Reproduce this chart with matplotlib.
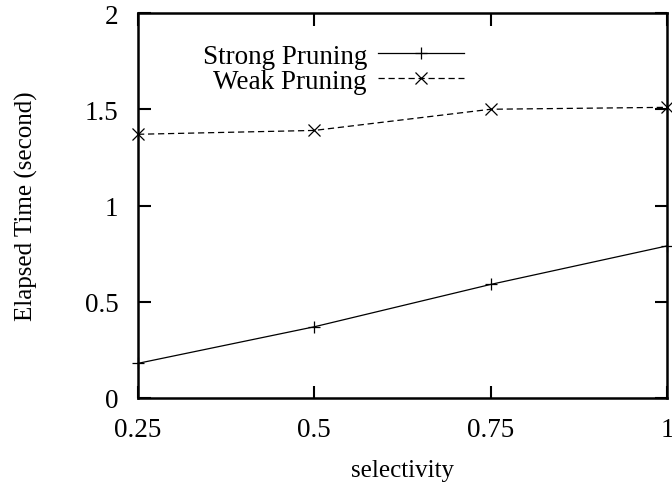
import matplotlib
matplotlib.use("Agg")
import matplotlib.pyplot as plt

selectivity = [0.25, 0.5, 0.75, 1.0]
strong_pruning = [0.18, 0.37, 0.59, 0.79]
weak_pruning = [1.37, 1.39, 1.50, 1.51]
x_ticks = [0.25, 0.5, 0.75, 1.0]
x_tick_labels = ["0.25", "0.5", "0.75", "1"]
y_ticks = [0, 0.5, 1, 1.5, 2]
y_tick_labels = ["0", "0.5", "1", "1.5", "2"]

plt.rcParams["font.family"] = ["Liberation Serif", "DejaVu Serif"]

fig = plt.figure(figsize=(6.72, 4.89), dpi=100)
ax = fig.add_axes([138 / 672, 1 - 399 / 489, (667 - 138) / 672, (399 - 14) / 489])

ax.plot(selectivity, strong_pruning, color="black", lw=0.9, marker="+",
        markersize=9, markeredgewidth=0.9, label="Strong Pruning", clip_on=False)
ax.plot(selectivity, weak_pruning, color="black", lw=0.9, ls=(0, (5, 3)), marker="x",
        markersize=8, markeredgewidth=0.9, label="Weak Pruning", clip_on=False)

ax.set_xlim(0.25, 1.0)
ax.set_ylim(0, 2)
ax.set_xticks(x_ticks)
ax.set_xticklabels(x_tick_labels)
ax.set_yticks(y_ticks)
ax.set_yticklabels(y_tick_labels)
ax.tick_params(direction="in", length=9, width=1.5, labelsize=19.5,
               top=True, right=True, pad=14)
for s in ax.spines.values():
    s.set_linewidth(1.8)

ax.set_xlabel("selectivity", fontsize=18, labelpad=12)
ax.set_ylabel("Elapsed Time (second)", fontsize=18, labelpad=34)

ax.legend(loc="upper right", bbox_to_anchor=(478 / 672, 1 - 31 / 489),
          bbox_transform=fig.transFigure, frameon=False, markerfirst=False,
          handlelength=3.2, fontsize=19.5, labelspacing=0.0, borderpad=0,
          handletextpad=0.4)

fig.savefig("out.png", dpi=100)
